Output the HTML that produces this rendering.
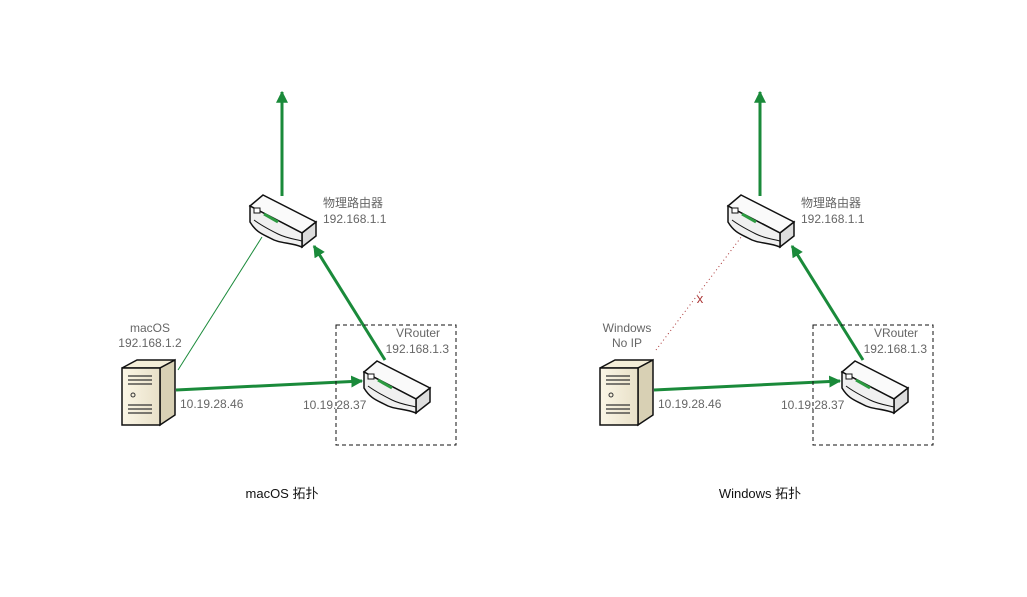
<!DOCTYPE html>
<html><head><meta charset="utf-8"><style>
body{margin:0;background:#fff}
svg text{font-family:"Liberation Sans","Noto Sans CJK SC",sans-serif}
.lb{font-size:12px;fill:#666}
.tt{font-size:13px;fill:#111}
</style></head><body>
<svg width="1027" height="592" viewBox="0 0 1027 592" xmlns="http://www.w3.org/2000/svg">
<defs>
<marker id="ah" viewBox="0 0 10 10" refX="9" refY="5" markerWidth="4" markerHeight="4" orient="auto-start-reverse"><path d="M0,0L10,5L0,10z" fill="#1a8a3a"/></marker>
<linearGradient id="sv" x1="0" x2="1"><stop offset="0" stop-color="#fbf6e6"/><stop offset="1" stop-color="#e8e0c8"/></linearGradient>
<g id="router">
<path d="M0,14 L13,3 L66,30 L52,41 Z" fill="#fafafa" stroke="#111" stroke-width="1.5"/>
<path d="M52,41 L66,30 L66,44 L52,55 Z" fill="#ddd" stroke="#111" stroke-width="1.5"/>
<path d="M0,14 L52,41 L52,55 C40,50 30,52 20,46 C12,42 6,40 0,30 Z" fill="#f0f0f0" stroke="#111" stroke-width="1.5"/>
<path d="M4,28 C12,34 20,38 28,42 C36,46 44,47 52,49" fill="none" stroke="#111"/>
<rect x="4" y="16" width="6" height="5" fill="#fff" stroke="#111"/>
<path d="M14,22 L28,30" stroke="#2c9a40" stroke-width="3"/>
</g>
<g id="server">
<path d="M0,8 L15,0 L53,0 L38,8 Z" fill="#f4eed8" stroke="#111" stroke-width="1.5"/>
<path d="M38,8 L53,0 L53,55 L38,65 Z" fill="#d8d0b4" stroke="#111" stroke-width="1.5"/>
<rect x="0" y="8" width="38" height="57" fill="url(#sv)" stroke="#111" stroke-width="1.5"/>
<path d="M6,16 H30 M6,20 H30 M6,24 H30 M6,45 H30 M6,49 H30 M6,53 H30" stroke="#333" stroke-width="1.2"/>
<circle cx="11" cy="35" r="2" fill="none" stroke="#333"/>
</g>
</defs>

<g>
<line x1="282" y1="196" x2="282" y2="92" stroke="#1a8a3a" stroke-width="3" marker-end="url(#ah)"/>
<line x1="178" y1="370" x2="262" y2="237" stroke="#1a8a3a" stroke-width="1"/>
<line x1="385" y1="360" x2="314" y2="246" stroke="#1a8a3a" stroke-width="3" marker-end="url(#ah)"/>
<line x1="176" y1="390" x2="362" y2="381" stroke="#1a8a3a" stroke-width="3" marker-end="url(#ah)"/>
<rect x="336" y="325" width="120" height="120" fill="none" stroke="#111" stroke-dasharray="4,3"/>
<use href="#router" x="250" y="192"/>
<use href="#router" x="364" y="358"/>
<use href="#server" x="122" y="360"/>
<text class="lb" x="323" y="207">物理路由器</text>
<text class="lb" x="323" y="223">192.168.1.1</text>
<text class="lb" x="150" y="332" text-anchor="middle">macOS</text>
<text class="lb" x="150" y="347" text-anchor="middle">192.168.1.2</text>
<text class="lb" x="440" y="337" text-anchor="end">VRouter</text>
<text class="lb" x="449" y="353" text-anchor="end">192.168.1.3</text>
<text class="lb" x="180" y="408">10.19.28.46</text>
<text class="lb" x="303" y="409">10.19.28.37</text>
<text class="tt" x="282" y="498" text-anchor="middle">macOS 拓扑</text>
</g>

<g>
<line x1="760" y1="196" x2="760" y2="92" stroke="#1a8a3a" stroke-width="3" marker-end="url(#ah)"/>
<line x1="656" y1="350" x2="745" y2="232" stroke="#a33" stroke-width="1" stroke-dasharray="1,3"/>
<text x="700" y="303" font-size="13" fill="#a33" text-anchor="middle">x</text>
<line x1="863" y1="360" x2="792" y2="246" stroke="#1a8a3a" stroke-width="3" marker-end="url(#ah)"/>
<line x1="654" y1="390" x2="840" y2="381" stroke="#1a8a3a" stroke-width="3" marker-end="url(#ah)"/>
<rect x="813" y="325" width="120" height="120" fill="none" stroke="#111" stroke-dasharray="4,3"/>
<use href="#router" x="728" y="192"/>
<use href="#router" x="842" y="358"/>
<use href="#server" x="600" y="360"/>
<text class="lb" x="801" y="207">物理路由器</text>
<text class="lb" x="801" y="223">192.168.1.1</text>
<text class="lb" x="627" y="332" text-anchor="middle">Windows</text>
<text class="lb" x="627" y="347" text-anchor="middle">No IP</text>
<text class="lb" x="918" y="337" text-anchor="end">VRouter</text>
<text class="lb" x="927" y="353" text-anchor="end">192.168.1.3</text>
<text class="lb" x="658" y="408">10.19.28.46</text>
<text class="lb" x="781" y="409">10.19.28.37</text>
<text class="tt" x="760" y="498" text-anchor="middle">Windows 拓扑</text>
</g>
</svg>
</body></html>
